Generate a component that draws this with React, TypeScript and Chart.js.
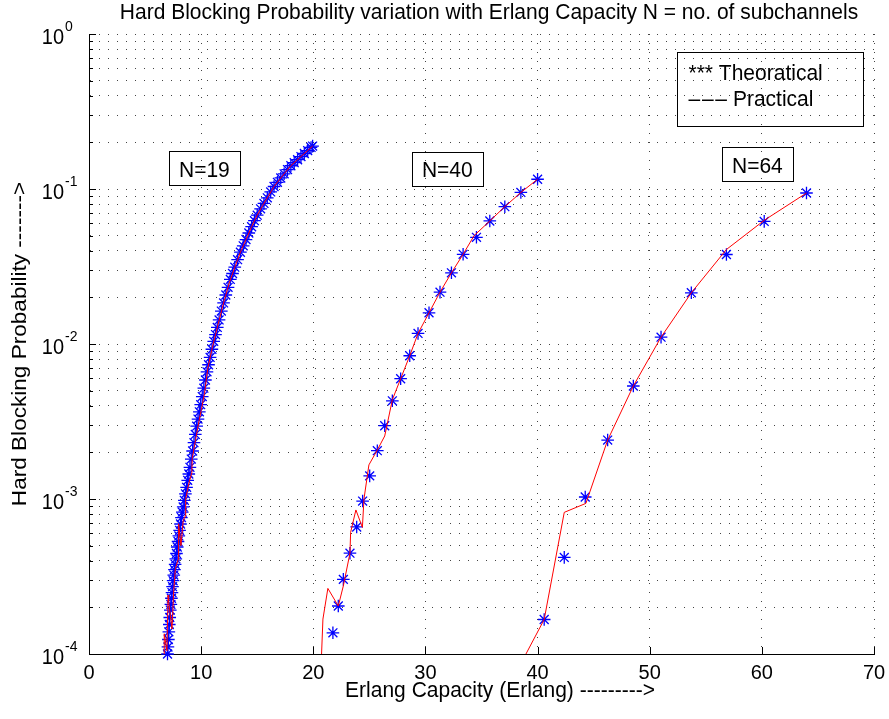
import React, { useEffect, useRef } from 'react';
import { Chart, registerables } from 'chart.js';

Chart.register(...registerables);

const FONT = '"Liberation Sans", Arial, Helvetica, sans-serif';
const STRETCH = 1.075; // reference glyphs are slightly taller than wide

// ---- Data: N = 19 subchannels ----
const n19TheoX = [7.00, 7.04, 7.08, 7.12, 7.16, 7.20, 7.25, 7.30, 7.35, 7.40, 7.45, 7.50, 7.56, 7.62, 7.68, 7.74, 7.80, 7.87, 7.94, 8.01, 8.08, 8.16, 8.24, 8.32, 8.40, 8.50, 8.60, 8.70, 8.80, 8.90, 9.00, 9.12, 9.24, 9.36, 9.48, 9.60, 9.72, 9.84, 9.96, 10.10, 10.24, 10.38, 10.52, 10.66, 10.80, 10.96, 11.12, 11.28, 11.44, 11.60, 11.80, 12.00, 12.20, 12.40, 12.60, 12.80, 13.00, 13.25, 13.50, 13.75, 14.00, 14.25, 14.50, 14.75, 15.00, 15.30, 15.60, 15.90, 16.20, 16.50, 16.80, 17.10, 17.40, 17.70, 18.00, 18.30, 18.60, 18.90, 19.20, 19.50, 19.80, 19.94];
const n19TheoY = [1.00e-4, 1.11e-4, 1.24e-4, 1.39e-4, 1.55e-4, 1.72e-4, 1.92e-4, 2.09e-4, 2.29e-4, 2.49e-4, 2.72e-4, 2.97e-4, 3.23e-4, 3.50e-4, 3.79e-4, 4.11e-4, 4.45e-4, 4.90e-4, 5.32e-4, 5.78e-4, 6.28e-4, 6.90e-4, 7.59e-4, 8.22e-4, 8.89e-4, 9.80e-4, 1.08e-3, 1.19e-3, 1.32e-3, 1.45e-3, 1.60e-3, 1.81e-3, 2.04e-3, 2.31e-3, 2.61e-3, 2.95e-3, 3.28e-3, 3.65e-3, 4.06e-3, 4.58e-3, 5.19e-3, 5.86e-3, 6.61e-3, 7.35e-3, 8.19e-3, 9.25e-3, 1.04e-2, 1.15e-2, 1.28e-2, 1.43e-2, 1.63e-2, 1.84e-2, 2.07e-2, 2.32e-2, 2.61e-2, 2.85e-2, 3.13e-2, 3.50e-2, 3.91e-2, 4.30e-2, 4.72e-2, 5.20e-2, 5.71e-2, 6.25e-2, 6.78e-2, 7.45e-2, 8.07e-2, 8.77e-2, 9.57e-2, 0.1038, 0.1104, 0.1178, 0.1253, 0.1334, 0.1413, 0.1479, 0.1545, 0.1618, 0.1694, 0.1770, 0.1854, 0.1892];
const n19PracX = [6.71, 6.71, 6.95, 7.05, 7.10, 7.30, 7.40, 7.55, 7.70, 7.95, 7.99, 8.20, 8.40, 8.58, 8.62, 8.90, 9.17, 9.20, 9.50, 9.80, 10.0, 10.3, 10.6, 11.0, 11.5, 12.0, 12.5, 13.0, 13.5, 14.0, 14.5, 15.0, 15.5, 16.0, 16.5, 17.0, 17.5, 18.0, 18.5, 19.0, 19.5, 19.94];
const n19PracY = [7.94e-5, 1.35e-4, 1.05e-4, 2.40e-4, 2.19e-4, 1.66e-4, 1.45e-4, 2.51e-4, 3.55e-4, 4.07e-4, 6.92e-4, 5.01e-4, 7.24e-4, 7.76e-4, 1.0e-3, 1.26e-3, 1.48e-3, 1.82e-3, 2.40e-3, 3.16e-3, 3.72e-3, 4.79e-3, 7.02e-3, 9.51e-3, 1.33e-2, 1.84e-2, 2.47e-2, 3.13e-2, 3.91e-2, 4.72e-2, 5.71e-2, 6.78e-2, 7.85e-2, 9.02e-2, 0.1038, 0.1153, 0.1279, 0.1413, 0.1524, 0.1644, 0.1770, 0.1892];

// ---- Data: N = 40 subchannels ----
const n40TheoX = [21.75, 22.23, 22.68, 23.27, 23.87, 24.40, 25.03, 25.71, 26.37, 27.05, 27.79, 28.60, 29.34, 30.32, 31.30, 32.32, 33.36, 34.55, 35.74, 37.08, 38.51, 40.0];
const n40TheoY = [1.37e-4, 2.04e-4, 3.03e-4, 4.47e-4, 6.6e-4, 9.7e-4, 1.41e-3, 2.05e-3, 2.97e-3, 4.3e-3, 5.97e-3, 8.4e-3, 1.17e-2, 1.59e-2, 2.16e-2, 2.88e-2, 3.79e-2, 4.88e-2, 6.22e-2, 7.69e-2, 9.5e-2, 0.1156];
const n40PracX = [20.71, 20.86, 21.30, 22.23, 22.68, 23.27, 23.33, 23.80, 24.38, 24.52, 24.96, 25.71, 26.37, 27.05, 27.79, 28.60, 29.34, 30.32, 31.30, 32.32, 33.36, 34.34, 35.74, 37.08, 38.51, 40.0];
const n40PracY = [8.9e-5, 1.68e-4, 2.65e-4, 2.04e-4, 2.75e-4, 4.47e-4, 6.1e-4, 8.5e-4, 6.56e-4, 1.0e-3, 1.66e-3, 2.07e-3, 2.55e-3, 4.37e-3, 5.97e-3, 8.4e-3, 1.17e-2, 1.59e-2, 2.16e-2, 2.88e-2, 3.79e-2, 5.0e-2, 6.22e-2, 7.69e-2, 9.5e-2, 0.1156];

// ---- Data: N = 64 subchannels ----
const n64TheoX = [40.59, 42.38, 44.25, 46.25, 48.54, 51.01, 53.71, 56.84, 60.21, 63.98];
const n64TheoY = [1.67e-4, 4.2e-4, 1.03e-3, 2.4e-3, 5.36e-3, 1.107e-2, 2.14e-2, 3.78e-2, 6.18e-2, 9.42e-2];
const n64PracX = [38.80, 40.59, 42.38, 44.31, 46.25, 48.54, 51.01, 53.71, 56.84, 60.21, 63.98];
const n64PracY = [9.5e-5, 1.67e-4, 8.2e-4, 9.37e-4, 2.4e-3, 5.36e-3, 1.107e-2, 2.14e-2, 4.07e-2, 6.28e-2, 9.42e-2];

// ---- Axes / ticks / text ----
const xMin = 0;
const xMax = 70;
const xStep = 10;
const yDecades = [1e-4, 1e-3, 1e-2, 1e-1, 1];
const yExponents = ['-4', '-3', '-2', '-1', '0'];
const yMinorMultipliers = [2, 3, 4, 5, 6, 7, 8, 9];

const titleText = 'Hard Blocking Probability variation with Erlang Capacity N = no. of subchannels';
const xLabelText = 'Erlang Capacity (Erlang) --------->';
const yLabelText = 'Hard Blocking Probability ------->';
const curveLabels = ['N=19', 'N=40', 'N=64'];
const curveLabelX = [10.29, 31.95, 59.6];
const curveLabelY = [0.1364, 0.1355, 0.1445];
const legendLines = ['*** Theoratical', '\u2013\u200A\u2013\u200A\u2013 Practical'];

const pts = (xs: number[], ys: number[]) => xs.map((x, i) => ({ x, y: ys[i] }));

const theoStyle = {
  showLine: false,
  pointStyle: 'star' as const,
  pointRadius: 6.3,
  pointBorderColor: '#0000ff',
  pointBackgroundColor: '#0000ff',
  pointBorderWidth: 1.3,
  clip: false as const,
  order: 1,
};
const pracStyle = {
  showLine: true,
  borderColor: '#ff0000',
  borderWidth: 1,
  pointRadius: 0,
  tension: 0,
  order: 0,
};

// draw text stretched vertically around its baseline
const tallText = (ctx: any, text: string, x: number, y: number) => {
  ctx.save();
  ctx.translate(x, y);
  ctx.scale(1, STRETCH);
  ctx.fillText(text, 0, 0);
  ctx.restore();
};

const annotPlugin = {
  id: 'annotations',
  afterDraw(chart: any) {
    const { ctx, chartArea: ca, scales } = chart;
    const xs = scales.x;
    const ys = scales.y;
    ctx.save();
    ctx.fillStyle = '#000';
    ctx.strokeStyle = '#000';
    ctx.lineWidth = 1;

    // inward tick marks
    ctx.beginPath();
    xs.ticks.forEach((t: any) => {
      const px = Math.round(xs.getPixelForValue(t.value)) + 0.5;
      ctx.moveTo(px, ca.bottom);
      ctx.lineTo(px, ca.bottom - 7);
    });
    ys.ticks.forEach((t: any) => {
      const py = Math.round(ys.getPixelForValue(t.value)) + 0.5;
      const major = yDecades.includes(t.value);
      ctx.moveTo(ca.left, py);
      ctx.lineTo(ca.left + (major ? 7 : 4), py);
    });
    ctx.stroke();

    // y tick labels with superscript exponents
    yDecades.forEach((v, i) => {
      const py = ys.getPixelForValue(v);
      ctx.font = `20px ${FONT}`;
      ctx.textAlign = 'right';
      ctx.textBaseline = 'alphabetic';
      tallText(ctx, '10', ca.left - 25, py + 10);
      ctx.font = `14px ${FONT}`;
      ctx.textAlign = 'left';
      tallText(ctx, yExponents[i], ca.left - 24, py - 3);
    });

    // title
    ctx.font = `21px ${FONT}`;
    ctx.textAlign = 'center';
    ctx.textBaseline = 'alphabetic';
    tallText(ctx, titleText, 489, 19);

    // x label
    tallText(ctx, xLabelText, 500, 697);

    // y label (rotated, stretched along its length)
    ctx.save();
    ctx.translate(26, (ca.top + ca.bottom) / 2);
    ctx.rotate(-Math.PI / 2);
    ctx.scale(STRETCH, 1);
    ctx.font = `21px ${FONT}`;
    ctx.fillText(yLabelText, 0, 0);
    ctx.restore();

    // curve label boxes
    curveLabels.forEach((lab, i) => {
      const cx = xs.getPixelForValue(curveLabelX[i]);
      const cy = ys.getPixelForValue(curveLabelY[i]);
      ctx.font = `21px ${FONT}`;
      ctx.textAlign = 'center';
      ctx.textBaseline = 'alphabetic';
      tallText(ctx, lab, cx, cy + 8.5);
      ctx.strokeRect(Math.round(cx - 35.5) + 0.5, Math.round(cy - 17) + 0.5, 71, 34);
    });

    // legend text box
    const lx = Math.round(ca.right - 197) + 0.5;
    const ly = Math.round(ca.top + 18) + 0.5;
    ctx.strokeRect(lx, ly, 186, 74);
    ctx.font = `21px ${FONT}`;
    ctx.textAlign = 'left';
    ctx.textBaseline = 'alphabetic';
    legendLines.forEach((t, i) => {
      tallText(ctx, t, lx + 11, ly + 27 + i * 26);
    });

    ctx.restore();
  },
};

export default function App() {
  const ref = useRef<HTMLCanvasElement | null>(null);
  useEffect(() => {
    if (!ref.current) return;
    const yTickValues: number[] = [];
    yDecades.forEach((d) => {
      yTickValues.push(d);
      if (d < 1) yMinorMultipliers.forEach((m) => yTickValues.push(d * m));
    });
    const chart = new Chart(ref.current, {
      type: 'scatter',
      data: {
        datasets: [
          { label: 'N=19 practical', data: pts(n19PracX, n19PracY), ...pracStyle },
          { label: 'N=40 practical', data: pts(n40PracX, n40PracY), ...pracStyle },
          { label: 'N=64 practical', data: pts(n64PracX, n64PracY), ...pracStyle },
          { label: 'N=19 theoretical', data: pts(n19TheoX, n19TheoY), ...theoStyle },
          { label: 'N=40 theoretical', data: pts(n40TheoX, n40TheoY), ...theoStyle },
          { label: 'N=64 theoretical', data: pts(n64TheoX, n64TheoY), ...theoStyle },
        ] as any,
      },
      options: {
        responsive: false,
        animation: false,
        devicePixelRatio: 1,
        layout: { padding: { left: 0, right: 0, top: 34, bottom: 0 } },
        plugins: {
          legend: { display: false },
          tooltip: { enabled: false },
          title: { display: false },
        },
        scales: {
          x: {
            type: 'linear',
            min: xMin,
            max: xMax,
            ticks: {
              stepSize: xStep,
              color: '#000',
              font: { family: FONT, size: 20 },
              padding: 7,
              maxRotation: 0,
            },
            grid: { color: '#444', lineWidth: 1, drawTicks: false },
            border: { display: true, color: '#000', width: 1, dash: [1, 8] },
            afterFit: (s: any) => {
              s.height = 65;
              s.paddingLeft = 0;
              s.paddingRight = 15;
            },
          },
          y: {
            type: 'logarithmic',
            min: yDecades[0],
            max: yDecades[yDecades.length - 1],
            afterBuildTicks: (s: any) => {
              s.ticks = yTickValues.map((v) => ({ value: v }));
            },
            ticks: { callback: () => '', autoSkip: false },
            grid: { color: '#444', lineWidth: 1, drawTicks: false },
            border: { display: true, color: '#000', width: 1, dash: [1, 8] },
            afterFit: (s: any) => {
              s.width = 89;
              s.paddingTop = 0;
              s.paddingBottom = 0;
            },
          },
        },
      } as any,
      plugins: [annotPlugin],
    });
    return () => chart.destroy();
  }, []);
  return (
    <div style={{ position: 'absolute', left: 0, top: 0, width: 889, height: 719, background: '#fff' }}>
      <canvas ref={ref} width={889} height={719} />
    </div>
  );
}
